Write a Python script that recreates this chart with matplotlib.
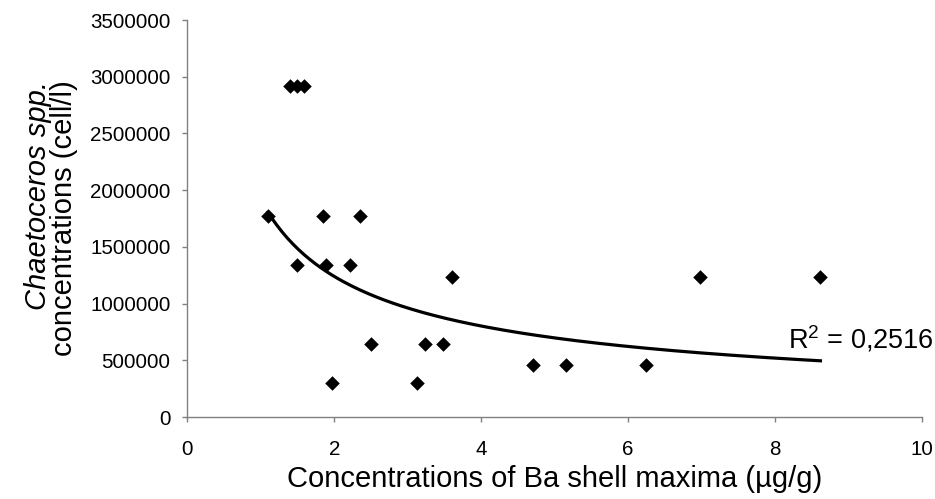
#!/usr/bin/env python3

import numpy as np
import matplotlib
matplotlib.use("Agg")
import matplotlib.pyplot as plt

plt.rcParams["font.family"] = ["Liberation Sans", "DejaVu Sans"]
plt.rcParams["mathtext.default"] = "regular"

# Ba shell maxima (ug/g) vs Chaetoceros spp. concentrations (cell/l)
ba_maxima = [1.10, 1.85, 2.35, 1.49, 1.89, 2.21, 2.50, 3.24, 1.97, 3.13,
             3.48, 3.61, 6.98, 8.62, 4.71, 5.16, 6.25, 1.40, 1.49, 1.59]
chaeto_conc = [1770000, 1770000, 1770000, 1340000, 1340000, 1340000,
               640000, 640000, 300000, 300000, 640000, 1230000, 1230000,
               1230000, 460000, 460000, 460000, 2920000, 2920000, 2920000]
r2_label = "R$^2$ = 0,2516"

x = np.array(ba_maxima)
y = np.array(chaeto_conc)

# power trendline, fitted in log space like Excel does
b, log_a = np.polyfit(np.log(x), np.log(y), 1)
x_fit = np.linspace(x.min(), x.max(), 200)
y_fit = np.exp(log_a) * x_fit ** b

fig = plt.figure(figsize=(9.35, 4.99), dpi=100)
ax = fig.add_axes([0.2003, 0.1643, 0.7856, 0.7956])

ax.scatter(x, y, marker="D", s=55, color="black", zorder=3, linewidths=0)
ax.plot(x_fit, y_fit, color="black", lw=2.3, zorder=2)

ax.set_xlim(0, 10)
ax.set_ylim(0, 3500000)
ax.set_xticks([0, 2, 4, 6, 8, 10])
ax.set_yticks(range(0, 3500001, 500000))
ax.set_yticklabels([str(v) for v in range(0, 3500001, 500000)])

for side in ["top", "right"]:
    ax.spines[side].set_visible(False)
for side in ["left", "bottom"]:
    ax.spines[side].set_color("#808080")
    ax.spines[side].set_linewidth(1.0)
ax.tick_params(direction="out", length=3.6, width=1, color="#808080",
               labelsize=14.8)
ax.tick_params(axis="y", pad=8.5)
ax.tick_params(axis="x", pad=13)

ax.set_xlabel("Concentrations of Ba shell maxima (µg/g)", fontsize=21,
              labelpad=4)

fig.text(38 / 935, 1 - 195 / 499, "Chaetoceros spp.", rotation=90,
         style="italic", fontsize=21, ha="center", va="center")
fig.text(64 / 935, 1 - 218 / 499, "concentrations (cell/l)", rotation=90,
         fontsize=21, ha="center", va="center")

ax.text(8.18, 600000, r2_label, fontsize=19.5, ha="left", va="baseline")

fig.savefig("out.png", dpi=100)
